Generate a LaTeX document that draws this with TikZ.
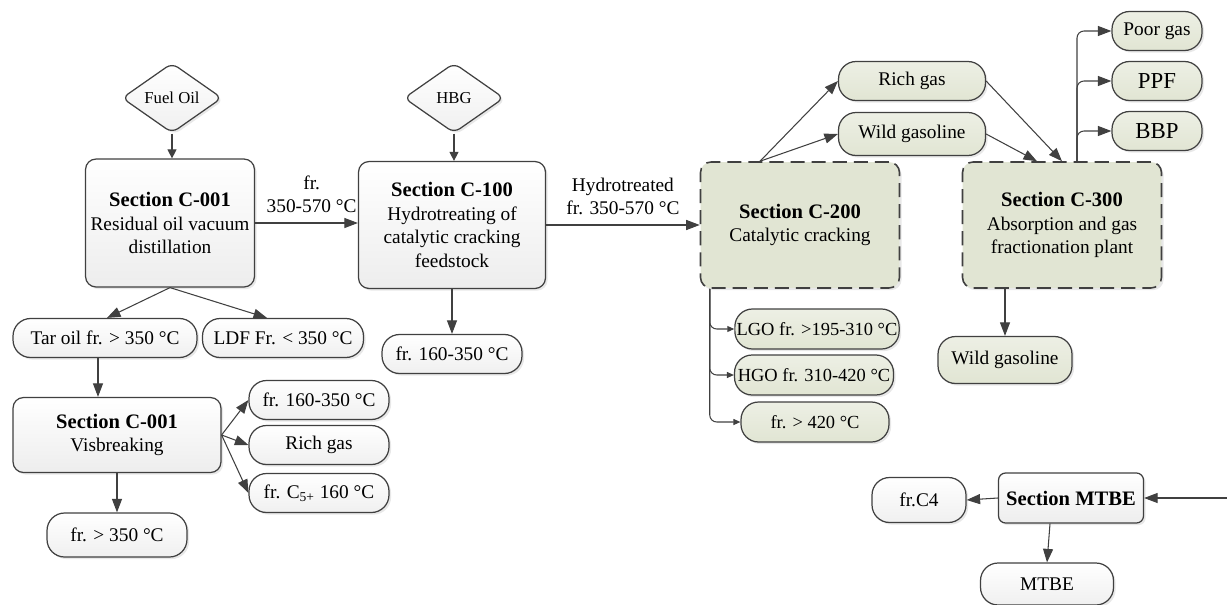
\documentclass[tikz,border=0pt]{standalone}
\usepackage{fontspec}
\setmainfont{Liberation Serif}
\usetikzlibrary{arrows.meta,shapes.geometric,shadows,calc}

\definecolor{edgegray}{RGB}{64,64,64}
\definecolor{feedgreen}{RGB}{225,229,211}

\newcommand{\stitle}[1]{{\fontsize{11.7}{13.5}\selectfont\bfseries #1}}

\tikzset{
  every node/.style={font=\fontsize{11}{13.5}\selectfont, text=black},
  shade/.style={drop shadow={opacity=0.18, shadow xshift=1.2pt, shadow yshift=-1.2pt}},
  sect/.style={draw=edgegray, line width=0.7pt, rounded corners=6pt, top color=white, bottom color=gray!14, align=center, inner sep=1pt, shade},
  greenbox/.style={draw=edgegray, line width=0.9pt, dash pattern=on 8pt off 4pt, rounded corners=6pt, fill=feedgreen, align=center, inner sep=1pt, shade},
  pill/.style={draw=edgegray, line width=0.7pt, rounded corners=10pt, top color=white, bottom color=gray!12, inner xsep=1pt, minimum height=0.78cm, shade},
  gpill/.style={pill, top color=feedgreen!60, bottom color=feedgreen},
  feed/.style={draw=edgegray, line width=0.7pt, diamond, rounded corners=4pt, aspect=1.43, minimum width=2cm, minimum height=1.4cm, inner sep=0pt, top color=white, bottom color=gray!12, font=\fontsize{9.5}{11}\selectfont, shade},
  arr/.style={draw=edgegray, line width=0.6pt, -{Triangle[length=0.27cm, width=0.2cm]}},
  arrmid/.style={draw=edgegray, line width=0.6pt, -{Triangle[length=0.18cm, width=0.18cm]}},
  arrsmall/.style={draw=edgegray, line width=0.6pt, -{Triangle[length=0.14cm, width=0.12cm]}},
}

\begin{document}
\begin{tikzpicture}[x=0.02cm, y=-0.02cm]

\useasboundingbox (0,0) rectangle (1227,605);

\node[feed] (fuel) at (172,98) {Fuel Oil};
\node[sect, minimum width=3.38cm, minimum height=2.56cm] (c001) at (170,223) {\stitle{Section C-001}\\Residual oil vacuum\\distillation};
\node[pill, minimum width=3.68cm] (tar) at (105,338) {Tar oil fr. > 350 °C};
\node[pill, minimum width=3.22cm] (ldf) at (283,338) {LDF Fr. < 350 °C};

\node[sect, minimum width=4.16cm, minimum height=1.5cm] (vis) at (117,435) {\stitle{Section C-001}\\Visbreaking};
\node[pill, minimum width=2.8cm] (vis1) at (319,400) {fr. 160-350 °C};
\node[pill, minimum width=2.8cm] (vis2) at (319,445) {Rich gas};
\node[pill, minimum width=2.8cm] (vis3) at (319,493) {fr. C\textsubscript{5+} 160 °C};
\node[pill, minimum width=2.8cm, minimum height=0.88cm] (vis4) at (117,535) {fr. > 350 °C};

\node[feed] (hbg) at (454,98) {HBG};
\node[sect, minimum width=3.74cm, minimum height=2.54cm] (c100) at (452,225) {\stitle{Section C-100}\\Hydrotreating of\\catalytic cracking\\feedstock};
\node[pill, minimum width=2.8cm] (c100out) at (452,354) {fr. 160-350 °C};

\node[greenbox, minimum width=3.98cm, minimum height=2.52cm] (c200) at (800,225) {\stitle{Section C-200}\\Catalytic cracking};
\node[gpill, minimum width=2.94cm] (rich) at (912,81) {Rich gas};
\node[gpill, minimum width=2.94cm, minimum height=0.86cm] (wild) at (912,134) {Wild gasoline};

\node[greenbox, minimum width=3.98cm, minimum height=2.52cm] (c300) at (1062,225) {\stitle{Section C-300}\\Absorption and gas\\fractionation plant};
\node[gpill, minimum width=1.8cm] (poor) at (1157,31) {Poor gas};
\node[gpill, minimum width=1.8cm, font=\fontsize{13}{15}\selectfont] (ppf) at (1157,81) {PPF};
\node[gpill, minimum width=1.8cm, font=\fontsize{13}{15}\selectfont] (bbp) at (1157,131) {BBP};

\node[gpill, minimum width=3.22cm, minimum height=0.8cm, font=\fontsize{10.5}{12}\selectfont] (lgo) at (817,329) {LGO fr. >195-310 °C};
\node[gpill, minimum width=3.18cm, minimum height=0.8cm, font=\fontsize{10.5}{12}\selectfont] (hgo) at (814,375) {HGO fr. 310-420 °C};
\node[gpill, minimum width=2.96cm, minimum height=0.8cm, font=\fontsize{10.5}{12}\selectfont] (f420) at (815,422) {fr. > 420 °C};
\node[gpill, minimum width=2.68cm, minimum height=0.94cm] (wild2) at (1005,360) {Wild gasoline};

\node[pill, minimum width=1.88cm, minimum height=0.9cm] (c4) at (919,500) {fr.C4};
\node[sect, rounded corners=4pt, minimum width=2.9cm, minimum height=1cm] (mtbe) at (1071,498) {\stitle{Section MTBE}};
\node[pill, minimum width=2.66cm, minimum height=0.84cm] (mtbeout) at (1047,584) {MTBE};
\coordinate (feedin) at (1227,498);

\draw[arrmid] (fuel.south) -- (fuel.south |- c001.north);
\draw[arr] (c001.east) -- node[above=2pt, pos=0.55, align=center] {fr.\\350-570 °C} (c001.east -| c100.west);
\draw[arr] (c001.south) -- ($(tar.north)+(2,0)$);
\draw[arr] (c001.south) -- ($(ldf.north)+(-16,0)$);
\draw[arr] ($(tar.south)+(-7,0)$) -- ($(vis.north)+(-19,0)$);

\draw[arr] (vis.east) -- (vis1.west);
\draw[arr] (vis.east) -- (vis2.west);
\draw[arr] (vis.east) -- (vis3.west);
\draw[arr] (vis.south) -- (vis4.north);

\draw[arrmid] (hbg.south) -- (hbg.south |- c100.north);
\draw[arr] (c100.south) -- (c100out.north);
\draw[arr] (c100.east) -- node[above=2pt, align=center] {Hydrotreated\\fr. 350-570 °C} (c100.east -| c200.west);

\draw[arr] ($(c200.north)+(-40,0)$) -- (rich.west);
\draw[arr] ($(c200.north)+(-40,0)$) -- (wild.west);
\draw[arr] (rich.east) -- (c300.north);
\draw[arr] (wild.east) -- ($(c300.north)+(-25,0)$);

\draw[arr, rounded corners=4pt] ($(c300.north)+(15,0)$) |- (poor.west);
\draw[arr, rounded corners=4pt] ($(c300.north)+(15,0)$) |- (ppf.west);
\draw[arr, rounded corners=4pt] ($(c300.north)+(15,0)$) |- (bbp.west);

\draw[arrsmall, rounded corners=4pt] ($(c200.south west)+(10,0)$) |- (lgo.west);
\draw[arrsmall, rounded corners=4pt] ($(c200.south west)+(10,0)$) |- (hgo.west);
\draw[arrsmall, rounded corners=4pt] ($(c200.south west)+(10,0)$) |- (f420.west);
\draw[arr] (wild2.north |- c300.south) -- (wild2.north);

\draw[arr] (feedin) -- (mtbe.east);
\draw[arr] (mtbe.west) -- (c4.east);
\draw[arr] ($(mtbe.south)+(-21,0)$) -- (mtbeout.north);

\end{tikzpicture}
\end{document}
